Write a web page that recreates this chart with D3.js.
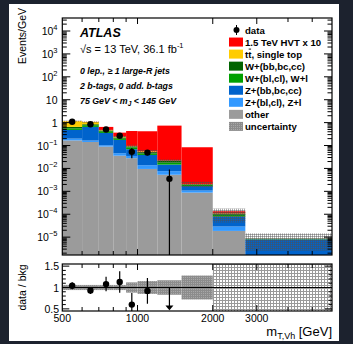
<!DOCTYPE html>
<html><head><meta charset="utf-8">
<script src="https://cdn.jsdelivr.net/npm/d3@7"></script>
<style>
body{margin:0;background:#1c222e;}
svg{display:block;}
text{font-family:"Liberation Sans",Arial,Helvetica,sans-serif;fill:#000;}
</style>
</head><body>
<svg id="c" width="353" height="344"></svg>
<script>
// ---------- data ----------
const binEdges = [500,600,700,800,900,1000,1200,1500,2000,2700,6000];
const other  = [0.167,0.143,0.09,0.036,0.028,0.0095,0.0053,0.00088,1.87e-5,1.0e-6];
const zLight = [0.033,0.022,0.013,0.010,0.007,0.0043,0.0023,0.0002,1.03e-5,0.5e-6];
const zHeavy = [0.28,0.485,0.252,0.13,0.034,0.025,0.0071,0.00062,5.0e-5,6.5e-6];
const wLight = [0.08,0.12,0.065,0.024,0.014,0.006,0.0036,0.0002,1.6e-5,0.3e-6];
const wHeavy = [0.09,0.08,0.03,0.026,0.008,0.007,0.003,0.00011,1.3e-5,0.2e-6];
const ttbar  = [0.50,0.22,0.03,0.019,0.005,0.004,0.0007,0.00009,2e-6,0.1e-6];
const signal = [0.005,0.01,0.17,0.12,0.334,0.364,0.718,0.082,2.5e-5,0];
const uncRel = [0.06,0.06,0.06,0.06,0.12,0.15,0.17,0.28,0.6,0.7];
const dataVal   = [1.1,0.85,0.5,0.27,0.053,0.049,0.0035];
const dataErrUp = [0.09,0.08,0.09,0.07,0.025,0.014,0.0055];
const dataErrDn = [0.09,0.08,0.09,0.07,0.025,0.011,0.0035];
const ratioVal  = [1.04,0.93,1.08,1.13,0.6,0.92];
const ratioErr  = [0.08,0.08,0.17,0.25,0.27,0.3];
const ratioArrowBin = 6;
const yDecades = [-5,-4,-3,-2,-1,0,1,2,3,4];
const xTickLabels = [500,1000,2000,3000];
const xMinorTicks = [600,700,800,900,1000,2000,3000,4000,5000];
const ratioTickLabels = [0.5,1,1.5];

const compNames  = ["other","Z+(bl,cl), Z+l","Z+(bb,bc,cc)","W+(bl,cl), W+l","W+(bb,bc,cc)","tt, single top"];
const compSeries = [other,zLight,zHeavy,wLight,wHeavy,ttbar];
const compColors = ["#9b9b9b","#3399ff","#0063cc","#00a000","#006400","#ffcc00"];

// ---------- scales ----------
const svg = d3.select("#c");
const X0=62.3, X1=332, MT=18, MB=255, RT=264, RB=311;
const xs = d3.scaleLog().domain([500,6000]).range([X0,X1]);
const ys = d3.scaleLog().domain([1.66e-6,3.7e4]).range([MB,MT]);
const yr = d3.scaleLinear().domain([0.45,1.55]).range([RB,RT]);

svg.append("rect").attr("x",9).attr("y",4).attr("width",330).attr("height",337).attr("fill","#fff");

const defs = svg.append("defs");
const p1 = defs.append("pattern").attr("id","unc").attr("width",2).attr("height",2).attr("patternUnits","userSpaceOnUse");
p1.append("path").attr("d","M0,0.5H2M0.5,0V2").attr("stroke","#505050").attr("stroke-opacity",0.45).attr("stroke-width",1).attr("fill","none");
const p3 = defs.append("pattern").attr("id","uncR").attr("width",2).attr("height",2).attr("patternUnits","userSpaceOnUse");
p3.append("rect").attr("width",2).attr("height",2).attr("fill","#a8a8a8");
p3.append("path").attr("d","M0,0.5H2M0.5,0V2").attr("stroke","#8c8c8c").attr("stroke-width",1).attr("fill","none");
const p2 = defs.append("pattern").attr("id","unc2").attr("width",3).attr("height",3).attr("patternUnits","userSpaceOnUse");
p2.append("path").attr("d","M0,0.5H3M0.5,0V3").attr("stroke","#9a9a9a").attr("stroke-width",1).attr("fill","none");
defs.append("clipPath").attr("id","cm").append("rect").attr("x",X0).attr("y",MT).attr("width",X1-X0).attr("height",MB-MT);
defs.append("clipPath").attr("id","cr").append("rect").attr("x",X0).attr("y",RT).attr("width",X1-X0).attr("height",RB-RT);

const nb = binEdges.length-1;
const bins = d3.range(nb);
const yMin = ys.domain()[0];

// ---------- main stack ----------
const gm = svg.append("g").attr("clip-path","url(#cm)");
const cum = bins.map(()=>0);
const bgTot = bins.map(i=>compSeries.reduce((s,a)=>s+a[i],0));
compSeries.forEach((ser,ci)=>{
  bins.forEach(i=>{
    const lo = cum[i], hi = cum[i]+ser[i];
    cum[i]=hi;
    if(hi<=yMin) return;
    const yl = ys(Math.max(lo,yMin)), yh = ys(hi);
    gm.append("rect").attr("x",xs(binEdges[i])).attr("width",xs(binEdges[i+1])-xs(binEdges[i]))
      .attr("y",yh).attr("height",Math.max(0,yl-yh)).attr("fill",compColors[ci]);
  });
});
// signal on top
bins.forEach(i=>{
  if(signal[i]<=0) return;
  const yl = ys(bgTot[i]), yh = ys(bgTot[i]+signal[i]);
  gm.append("rect").attr("x",xs(binEdges[i])).attr("width",xs(binEdges[i+1])-xs(binEdges[i]))
    .attr("y",yh).attr("height",yl-yh).attr("fill","#ff0000");
});
// uncertainty band
bins.forEach(i=>{
  const up = bgTot[i]*(1+uncRel[i]), dn = Math.max(bgTot[i]*(1-uncRel[i]),yMin);
  gm.append("rect").attr("x",xs(binEdges[i])).attr("width",xs(binEdges[i+1])-xs(binEdges[i]))
    .attr("y",ys(up)).attr("height",ys(dn)-ys(up)).attr("fill","url(#unc)");
});
// data
const cen = i=>Math.sqrt(binEdges[i]*binEdges[i+1]);
dataVal.forEach((v,i)=>{
  const lo = Math.max(v-dataErrDn[i],yMin*0.5);
  gm.append("line").attr("x1",xs(cen(i))).attr("x2",xs(cen(i))).attr("y1",ys(v+dataErrUp[i])).attr("y2",ys(lo))
    .attr("stroke","#000").attr("stroke-width",1.2);
  gm.append("circle").attr("cx",xs(cen(i))).attr("cy",ys(v)).attr("r",3.2).attr("fill","#000");
});

// ---------- ratio ----------
const gr = svg.append("g").attr("clip-path","url(#cr)");
bins.forEach(i=>{
  gr.append("rect").attr("x",xs(binEdges[i])).attr("width",xs(binEdges[i+1])-xs(binEdges[i]))
    .attr("y",yr(1+uncRel[i])).attr("height",yr(1-uncRel[i])-yr(1+uncRel[i]))
    .attr("fill", uncRel[i]>0.5 ? "url(#unc2)" : "url(#uncR)");
});
gr.append("line").attr("x1",X0).attr("x2",X1).attr("y1",yr(1)).attr("y2",yr(1)).attr("stroke","#000").attr("stroke-width",1);
ratioVal.forEach((v,i)=>{
  gr.append("line").attr("x1",xs(cen(i))).attr("x2",xs(cen(i))).attr("y1",yr(v+ratioErr[i])).attr("y2",yr(v-ratioErr[i]))
    .attr("stroke","#000").attr("stroke-width",1.2);
  gr.append("circle").attr("cx",xs(cen(i))).attr("cy",yr(v)).attr("r",3.2).attr("fill","#000");
});
{
  const xa = xs(cen(ratioArrowBin));
  gr.append("line").attr("x1",xa).attr("x2",xa).attr("y1",yr(1.0)).attr("y2",yr(0.55)).attr("stroke","#000").attr("stroke-width",1.2);
  gr.append("path").attr("d",`M${xa-4},${yr(0.58)}L${xa+4},${yr(0.58)}L${xa},${yr(0.47)}Z`).attr("fill","#000");
}

// ---------- frames & ticks ----------
function frame(t,b){
  svg.append("rect").attr("x",X0).attr("y",t).attr("width",X1-X0).attr("height",b-t)
    .attr("fill","none").attr("stroke","#000").attr("stroke-width",1.2);
}
frame(MT,MB); frame(RT,RB);
const tk = svg.append("g").attr("stroke","#000").attr("stroke-width",1);
[[MT,MB],[RT,RB]].forEach(([t,b])=>{
  xMinorTicks.forEach(v=>{
    const L = (v===1000||v===2000||v===3000)?6:4;
    const x = xs(v);
    tk.append("line").attr("x1",x).attr("x2",x).attr("y1",b).attr("y2",b-L);
    tk.append("line").attr("x1",x).attr("x2",x).attr("y1",t).attr("y2",t+L);
  });
});
for(let e=-6;e<=4;e++){
  for(let m=1;m<=9;m++){
    const v = m*Math.pow(10,e);
    if(v<ys.domain()[0]||v>ys.domain()[1]) continue;
    const L = m===1?8:4.5, y=ys(v);
    tk.append("line").attr("x1",X0).attr("x2",X0+L).attr("y1",y).attr("y2",y);
    tk.append("line").attr("x1",X1).attr("x2",X1-L).attr("y1",y).attr("y2",y);
  }
}
for(let k=5;k<=15;k++){
  const v=k/10, y=yr(v), L=(k%5===0)?7:3.5;
  tk.append("line").attr("x1",X0).attr("x2",X0+L).attr("y1",y).attr("y2",y);
  tk.append("line").attr("x1",X1).attr("x2",X1-L).attr("y1",y).attr("y2",y);
}

// ---------- labels ----------
const FS=10.5;
yDecades.forEach(e=>{
  const t = svg.append("text").attr("x",57.5).attr("y",ys(Math.pow(10,e))+4).attr("text-anchor","end").attr("font-size",FS);
  if(e===0) t.text("1");
  else if(e===1) t.text("10");
  else { t.append("tspan").text("10"); t.append("tspan").attr("dy",-5).attr("font-size",7.5).text(e<0?"\u2212"+(-e):String(e)); }
});
ratioTickLabels.forEach(v=>{
  svg.append("text").attr("x",59).attr("y",yr(v)+4).attr("text-anchor","end").attr("font-size",FS).text(String(v));
});
xTickLabels.forEach(v=>{
  svg.append("text").attr("x",xs(v)).attr("y",322).attr("text-anchor","middle").attr("font-size",FS).text(String(v));
});
svg.append("text").attr("transform","translate(26,8) rotate(-90)").attr("text-anchor","end").attr("font-size",10.5).text("Events/GeV");
svg.append("text").attr("transform",`translate(26,${(RT+RB)/2}) rotate(-90)`).attr("text-anchor","middle").attr("font-size",10.5).text("data / bkg");
{
  const t = svg.append("text").attr("x",332).attr("y",336).attr("text-anchor","end").attr("font-size",13);
  t.append("tspan").text("m");
  t.append("tspan").attr("dy",3).attr("font-size",9).text("T,Vh");
  t.append("tspan").attr("dy",-3).text(" [GeV]");
}
svg.append("text").attr("x",80).attr("y",37).attr("font-size",12.5).attr("font-weight","bold").attr("font-style","italic").text("ATLAS");
{
  const t = svg.append("text").attr("x",80).attr("y",52.5).attr("font-size",11);
  t.append("tspan").text("\u221As = 13 TeV, 36.1 fb");
  t.append("tspan").attr("dy",-4.5).attr("font-size",7.5).text("-1");
}
svg.append("text").attr("x",80).attr("y",74).attr("font-size",8.8).attr("font-weight","bold").attr("font-style","italic").text("0 lep., \u2265 1 large-R jets");
svg.append("text").attr("x",80).attr("y",89).attr("font-size",8.8).attr("font-style","italic").attr("font-weight","bold").text("2 b-tags, 0 add. b-tags");
{
  const t = svg.append("text").attr("x",80).attr("y",103.5).attr("font-size",8.8).attr("font-weight","bold").attr("font-style","italic");
  t.append("tspan").text("75 GeV < m");
  t.append("tspan").attr("dy",2.5).attr("font-size",6.5).text("J");
  t.append("tspan").attr("dy",-2.5).text(" < 145 GeV");
}

// ---------- legend ----------
const legNames  = ["data","1.5 TeV HVT x 10"].concat(compNames.slice().reverse()).concat(["uncertainty"]);
const legColors = [null,"#ff0000"].concat(compColors.slice().reverse()).concat(["unc"]);
const LX=229, LY0=30, LDY=12.05;
legNames.forEach((n,i)=>{
  const y = LY0+i*LDY;
  if(i===0){
    svg.append("line").attr("x1",LX+7.5).attr("x2",LX+7.5).attr("y1",y-5).attr("y2",y+5).attr("stroke","#000");
    svg.append("circle").attr("cx",LX+7.5).attr("cy",y).attr("r",3).attr("fill","#000");
  } else if(legColors[i]==="unc"){
    svg.append("rect").attr("x",LX).attr("y",y-4.5).attr("width",14).attr("height",9).attr("fill","url(#uncR)");
  } else {
    svg.append("rect").attr("x",LX).attr("y",y-4.5).attr("width",14).attr("height",9).attr("fill",legColors[i]);
  }
  const t = svg.append("text").attr("x",245).attr("y",y+3.6).attr("font-size",9.6).attr("font-weight","bold").text(n);
  if(n.startsWith("tt")){
    const node=t.node();
    const a=node.getStartPositionOfChar(1).x, b=node.getEndPositionOfChar(1).x;
    svg.append("line").attr("x1",a+0.5).attr("x2",b-0.3).attr("y1",y-5).attr("y2",y-5).attr("stroke","#000").attr("stroke-width",0.9);
  }
});
</script>
</body></html>
